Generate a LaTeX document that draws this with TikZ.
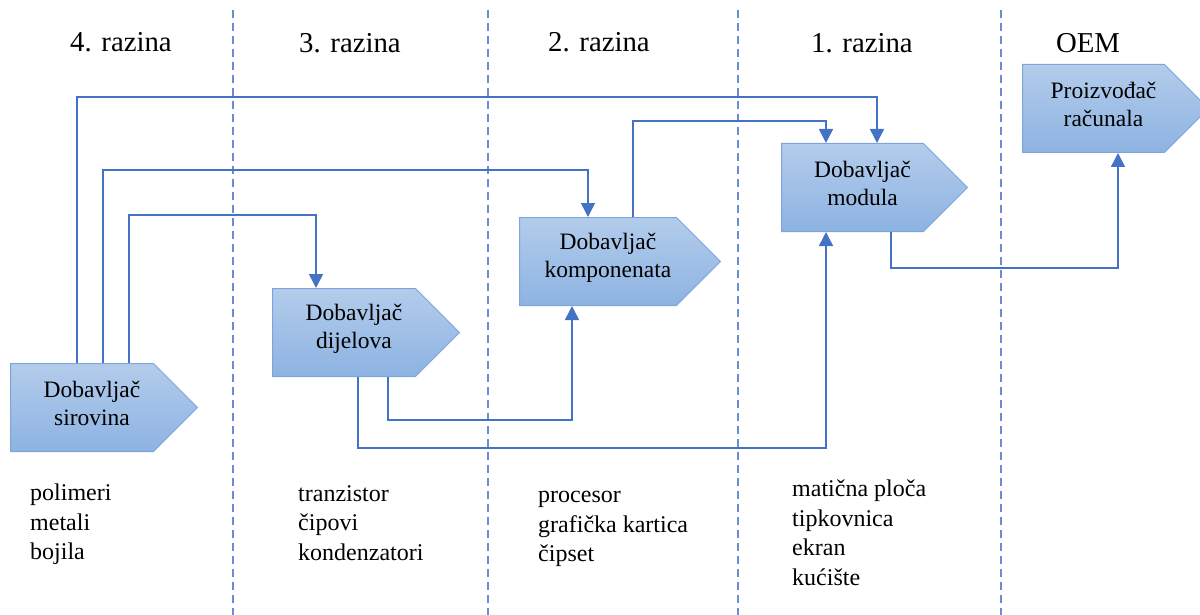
\documentclass[tikz,border=0pt]{standalone}
\usepackage{fontspec}
\setmainfont{Liberation Serif}
\newfontfamily\timesfont{Liberation Serif}
\usetikzlibrary{arrows.meta,shapes.symbols}
\begin{document}
\begin{tikzpicture}[x=1pt,y=-1pt,>={Triangle[length=14pt,width=14pt]}, line join=miter, font=\timesfont]
	\definecolor{linkblue}{HTML}{4472C4}
	\definecolor{boxtop}{HTML}{B3CCEB}
	\definecolor{boxbottom}{HTML}{8DB3E2}
	\definecolor{boxedge}{HTML}{7DA5DB}
	\tikzset{supplier/.style={shape=signal, signal to=east, signal pointer angle=90,
			anchor=north west, minimum height=88pt, minimum width=187pt, inner sep=0pt,
			top color=boxtop, bottom color=boxbottom, draw=boxedge, line width=1pt},
		box text/.style={align=center, inner sep=0pt, xshift=10pt, yshift=4pt, font=\timesfont\fontsize{23.5}{28}\selectfont},
		head/.style={font=\timesfont\fontsize{28.8}{34}\selectfont},
		items/.style={anchor=north west, align=left, inner sep=0pt, font=\timesfont\fontsize{24}{29.5}\selectfont},
		link/.style={draw=linkblue, line width=1.5pt},
		level line/.style={draw=linkblue!80, line width=1.2pt, dash pattern=on 8pt off 5pt}}
	\useasboundingbox (0,0) rectangle (1200,615);
	\foreach \x in {233,488,738,1001}
	\draw[level line] (\x,10) -- (\x,615);
	\node[head] (h4) at (121,42) {4. razina};
	\node[head] (h3) at (350,43) {3. razina};
	\node[head] (h2) at (599,42) {2. razina};
	\node[head] (h1) at (862,43) {1. razina};
	\node[head] (oem) at (1088,43) {OEM};
	%
	\node[supplier] (sir) at (10,363) {};
	\node[supplier] (dij) at (272,288) {};
	\node[supplier, minimum width=201pt] (kom) at (519,217) {};
	\node[supplier, minimum width=186pt] (mod) at (781,143) {};
	\node[supplier, minimum width=186pt] (pro) at (1022,64) {};
	\node[box text] (sirT) at (sir.center) {Dobavljač\\sirovina};
	\node[box text] (dijT) at (dij.center) {Dobavljač\\dijelova};
	\node[box text] (komT) at (kom.center) {Dobavljač\\komponenata};
	\node[box text] (modT) at (mod.center) {Dobavljač\\modula};
	\node[box text] (proT) at (pro.center) {Proizvođač\\računala};
	%
	\node[items] (l4) at (30,484) {polimeri\\metali\\bojila};
	\node[items] (l3) at (298,485) {tranzistor\\čipovi\\kondenzatori};
	\node[items] (l2) at (538,491) {procesor\\grafička kartica\\čipset};
	\node[items] (l1) at (792,480) {matična ploča\\tipkovnica\\ekran\\kućište};
	%
	\draw[link,->] ([xshift=67pt]sir.north west) -- ++(0,-266) -| ([xshift=96pt]mod.north west);
	\draw[link,->] ([xshift=93pt]sir.north west) -- ++(0,-193) -| ([xshift=69pt]kom.north west);
	\draw[link,->] ([xshift=119pt]sir.north west) -- ++(0,-148) -| ([xshift=44pt]dij.north west);
	\draw[link,->] ([xshift=114pt]kom.north west) -- ++(0,-96) -| ([xshift=45pt]mod.north west);
	\draw[link,->] ([xshift=116pt]dij.south west) -- ++(0,43) -| ([xshift=53pt]kom.south west);
	\draw[link,->] ([xshift=86pt]dij.south west) -- ++(0,71) -| ([xshift=45pt]mod.south west);
	\draw[link,->] ([xshift=110pt]mod.south west) -- ++(0,36) -| ([xshift=96pt]pro.south west);
\end{tikzpicture}
\end{document}
